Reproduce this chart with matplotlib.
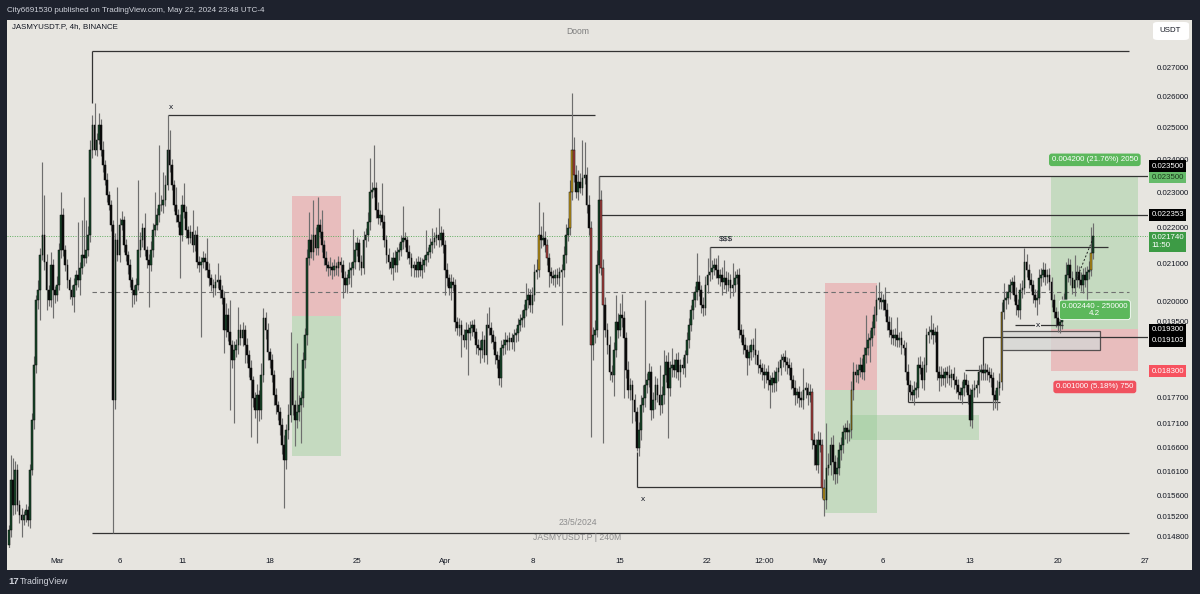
import numpy as np
import pandas as pd
import matplotlib
matplotlib.use('Agg')
import matplotlib.pyplot as plt
import matplotlib.dates as mdates
import matplotlib.transforms as mtransforms
from matplotlib.patches import Rectangle, FancyBboxPatch

# JASMYUSDT.P 4h candles, prices in 1e-5 USDT
first_open = 1465
closes = [
    1493, 1592, 1542, 1613, 1542, 1522, 1513, 1522, 1532, 1513,
    1613, 1719, 1844, 2004, 2030, 2123, 2178, 2105, 2030, 2004,
    2096, 2030, 2017, 2043, 2137, 2234, 2137, 2096, 2056, 2030,
    2012, 2043, 2070, 2056, 2088, 2123, 2115, 2137, 2178, 2429,
    2508, 2429, 2460, 2508, 2429, 2382, 2337, 2292, 2263, 2206,
    1764, 2164, 2123, 2206, 2220, 2150, 2123, 2096, 2056, 2030,
    2017, 2043, 2137, 2164, 2198, 2137, 2110, 2096, 2137, 2192,
    2206, 2234, 2263, 2263, 2278, 2322, 2429, 2382, 2322, 2263,
    2234, 2214, 2178, 2263, 2243, 2192, 2170, 2186, 2150, 2178,
    2105, 2096, 2105, 2115, 2105, 2083, 2061, 2043, 2035, 2051,
    2056, 2030, 2009, 1929, 1967, 1924, 1892, 1856, 1880, 1892,
    1929, 1909, 1929, 1892, 1868, 1838, 1809, 1768, 1741, 1775,
    1741, 1821, 1959, 1929, 1875, 1856, 1821, 1775, 1752, 1737,
    1708, 1665, 1633, 1697, 1730, 1814, 1752, 1719, 1737, 1752,
    1768, 1856, 1916, 2115, 2164, 2132, 2178, 2142, 2206, 2186,
    2150, 2115, 2096, 2088, 2091, 2083, 2094, 2088, 2105, 2096,
    2061, 2043, 2061, 2083, 2088, 2105, 2137, 2156, 2105, 2088,
    2164, 2178, 2214, 2301, 2307, 2313, 2249, 2226, 2234, 2214,
    2164, 2123, 2105, 2088, 2115, 2096, 2132, 2137, 2159, 2170,
    2164, 2132, 2115, 2088, 2096, 2083, 2105, 2083, 2096, 2110,
    2123, 2132, 2150, 2159, 2170, 2178, 2164, 2184, 2150, 2083,
    2061, 2035, 2051, 2043, 1949, 1934, 1941, 1916, 1904, 1929,
    1921, 1934, 1941, 1924, 1892, 1885, 1880, 1904, 1868, 1941,
    1934, 1916, 1899, 1868, 1856, 1814, 1885, 1892, 1904, 1899,
    1909, 1899, 1916, 1921, 1941, 1954, 1959, 1979, 2004, 2017,
    1992, 2017, 2078, 2083, 2178, 2164, 2170, 2150, 2115, 2078,
    2067, 2061, 2070, 2061, 2078, 2083, 2123, 2178, 2198, 2301,
    2429, 2352, 2301, 2331, 2313, 2343, 2352, 2263, 2198, 1892,
    1916, 1929, 2096, 2278, 2088, 1992, 1929, 1892, 1828, 1821,
    1880, 1949, 1929, 1967, 1959, 1909, 1833, 1786, 1797, 1764,
    1737, 1659, 1697, 1752, 1768, 1797, 1809, 1828, 1741, 1764,
    1797, 1775, 1752, 1775, 1821, 1851, 1791, 1838, 1844, 1833,
    1856, 1828, 1844, 1838, 1868, 1904, 1941, 1979, 2004, 2025,
    2051, 2030, 1992, 1984, 2043, 2070, 2078, 2088, 2096, 2083,
    2061, 2070, 2051, 2061, 2043, 2056, 2035, 2043, 2061, 2070,
    1929, 1916, 1892, 1880, 1861, 1875, 1892, 1880, 1868, 1844,
    1838, 1828, 1821, 1828, 1809, 1797, 1814, 1802, 1828, 1838,
    1856, 1863, 1851, 1844, 1838, 1809, 1791, 1775, 1781, 1768,
    1764, 1786, 1791, 1775, 1781, 1676, 1665, 1623, 1676, 1665,
    1576, 1552, 1617, 1623, 1665, 1629, 1603, 1617, 1654, 1665,
    1693, 1701, 1693, 1697, 1786, 1828, 1821, 1833, 1844, 1828,
    1868, 1885, 1904, 1909, 1934, 1967, 2004, 2009, 1999, 2004,
    1979, 1949, 1929, 1916, 1909, 1916, 1904, 1909, 1892, 1885,
    1828, 1797, 1781, 1775, 1786, 1791, 1844, 1838, 1809, 1844,
    1916, 1924, 1929, 1916, 1924, 1828, 1814, 1821, 1814, 1828,
    1821, 1814, 1823, 1809, 1797, 1781, 1775, 1791, 1809, 1797,
    1775, 1719, 1786, 1791, 1797, 1828, 1833, 1826, 1833, 1828,
    1821, 1814, 1775, 1764, 1791, 1805, 1974, 2004, 2009, 2025,
    2043, 2051, 2017, 1992, 1979, 2030, 2035, 2105, 2083, 2056,
    2043, 2017, 2004, 2009, 2061, 2070, 2083, 2064, 2070, 2051,
    2004, 1974, 1959, 1941, 1949, 1992, 2004, 2070, 2096, 2061,
    2035, 2056, 2078, 2056, 2043, 2070, 2056, 2078, 2083, 2129, 2174,
]
wick_up = [
    10, 52, 46, 18, 12, 9, 14, 8, 11, 7,
    12, 16, 22, 14, 25, 18, 214, 114, 20, 12,
    35, 15, 11, 24, 18, 67, 20, 13, 17, 9,
    14, 19, 12, 144, 16, 97, 163, 83, 25, 31,
    30, 71, 22, 38, 18, 27, 15, 21, 12, 14,
    14, 20, 152, 19, 26, 12, 17, 10, 15, 9,
    13, 18, 200, 22, 15, 42, 11, 16, 24, 20,
    95, 22, 181, 28, 83, 30, 111, 63, 20, 15,
    53, 18, 24, 30, 65, 16, 12, 20, 63, 14,
    25, 16, 12, 20, 14, 65, 18, 11, 15, 22,
    46, 14, 12, 18, 30, 16, 80, 12, 22, 15,
    58, 14, 20, 11, 16, 12, 18, 9, 14, 24,
    12, 28, 25, 15, 18, 10, 14, 12, 16, 9,
    11, 15, 20, 13, 24, 110, 18, 12, 160, 22,
    15, 20, 18, 24, 79, 16, 100, 22, 80, 18,
    63, 14, 20, 11, 27, 13, 18, 10, 16, 12,
    14, 18, 11, 20, 15, 90, 22, 16, 12, 18,
    24, 20, 28, 102, 25, 131, 18, 22, 15, 94,
    20, 14, 18, 12, 16, 22, 14, 20, 18, 90,
    16, 12, 18, 14, 11, 20, 15, 12, 18, 14,
    69, 14, 20, 39, 16, 22, 77, 18, 12, 15,
    18, 12, 20, 14, 16, 11, 18, 12, 15, 20,
    14, 18, 12, 16, 10, 14, 18, 22, 12, 30,
    46, 14, 12, 16, 10, 12, 18, 14, 20, 12,
    14, 11, 16, 12, 18, 14, 20, 16, 44, 18,
    16, 22, 20, 28, 94, 24, 73, 20, 18, 14,
    12, 16, 14, 18, 12, 15, 24, 30, 28, 36,
    182, 40, 30, 35, 28, 117, 100, 24, 30, 18,
    20, 24, 40, 71, 30, 25, 20, 18, 22, 16,
    20, 68, 22, 30, 53, 18, 14, 20, 16, 12,
    14, 10, 18, 22, 30, 207, 16, 20, 14, 18,
    22, 16, 69, 20, 59, 18, 24, 16, 41, 14,
    16, 20, 14, 18, 12, 20, 18, 13, 22, 16,
    78, 18, 14, 20, 24, 45, 67, 22, 18, 20,
    41, 16, 20, 49, 18, 22, 16, 59, 20, 14,
    18, 14, 16, 20, 12, 18, 14, 16, 54, 12,
    14, 12, 18, 10, 16, 12, 14, 18, 12, 16,
    14, 10, 18, 12, 16, 14, 12, 18, 10, 14,
    16, 52, 14, 12, 18, 10, 14, 12, 18, 16,
    12, 18, 95, 24, 16, 20, 14, 22, 18, 16,
    14, 12, 18, 16, 20, 24, 18, 14, 20, 16,
    18, 82, 16, 20, 18, 22, 39, 42, 18, 16,
    34, 18, 14, 33, 16, 18, 46, 14, 18, 12,
    14, 18, 12, 16, 20, 14, 18, 22, 16, 20,
    18, 14, 38, 16, 12, 18, 14, 20, 16, 12,
    14, 23, 12, 16, 10, 14, 12, 16, 18, 14,
    12, 16, 14, 18, 12, 16, 14, 12, 16, 14,
    12, 16, 14, 12, 18, 20, 24, 44, 18, 20,
    16, 13, 18, 20, 14, 18, 22, 37, 20, 16,
    18, 14, 16, 20, 25, 18, 22, 19, 16, 18,
    14, 16, 12, 18, 20, 22, 18, 35, 19, 16,
    20, 67, 18, 16, 22, 18, 20, 16, 24, 71, 37,
]
wick_dn = [
    30, 14, 20, 18, 12, 16, 33, 10, 14, 12,
    16, 12, 20, 18, 24, 76, 14, 22, 51, 16,
    18, 71, 20, 16, 14, 22, 18, 16, 20, 24,
    20, 38, 14, 18, 39, 16, 22, 14, 18, 20,
    24, 16, 20, 14, 18, 22, 16, 20, 14, 18,
    277, 20, 16, 18, 14, 20, 16, 24, 18, 43,
    22, 16, 14, 20, 18, 16, 22, 109, 16, 20,
    18, 14, 20, 16, 22, 18, 14, 20, 16, 18,
    20, 14, 117, 18, 16, 22, 18, 14, 20, 16,
    18, 20, 185, 16, 22, 18, 20, 16, 22, 18,
    16, 20, 14, 56, 18, 22, 151, 20, 144, 18,
    22, 16, 20, 43, 18, 22, 127, 20, 18, 72,
    24, 20, 16, 22, 18, 20, 16, 22, 20, 18,
    22, 20, 97, 18, 20, 16, 22, 56, 18, 20,
    83, 20, 18, 24, 20, 16, 22, 18, 20, 16,
    18, 20, 16, 22, 18, 24, 16, 20, 22, 18,
    52, 18, 20, 16, 45, 18, 20, 16, 22, 18,
    16, 20, 18, 22, 16, 20, 24, 18, 20, 16,
    18, 22, 20, 16, 32, 20, 18, 22, 16, 20,
    18, 20, 16, 22, 24, 18, 20, 16, 22, 18,
    16, 20, 18, 22, 16, 20, 18, 16, 22, 66,
    20, 18, 31, 16, 22, 18, 20, 53, 18, 22,
    100, 18, 20, 16, 22, 18, 31, 20, 16, 22,
    18, 20, 16, 22, 18, 17, 20, 16, 22, 18,
    20, 16, 22, 18, 20, 16, 18, 22, 16, 20,
    18, 22, 16, 20, 18, 22, 16, 20, 18, 40,
    20, 18, 22, 16, 20, 137, 18, 22, 16, 20,
    24, 20, 18, 22, 16, 20, 18, 22, 20, 210,
    36, 20, 18, 22, 20, 323, 18, 22, 20, 16,
    49, 18, 20, 16, 22, 141, 20, 18, 22, 52,
    20, 8, 18, 22, 16, 20, 18, 16, 22, 18,
    20, 16, 22, 18, 20, 16, 111, 18, 22, 16,
    20, 18, 35, 16, 22, 18, 20, 16, 22, 18,
    20, 16, 22, 20, 18, 22, 16, 20, 18, 22,
    16, 20, 34, 18, 20, 16, 26, 20, 18, 16,
    20, 18, 22, 16, 40, 18, 20, 16, 22, 18,
    16, 20, 30, 18, 22, 51, 16, 20, 18, 22,
    18, 16, 20, 22, 18, 20, 16, 22, 18, 20,
    16, 20, 18, 22, 16, 20, 42, 10, 18, 16,
    20, 32, 18, 16, 22, 37, 20, 18, 16, 20,
    18, 16, 24, 20, 18, 22, 16, 20, 18, 16,
    20, 18, 16, 53, 20, 18, 16, 22, 18, 20,
    16, 20, 18, 22, 16, 20, 18, 16, 22, 18,
    20, 16, 18, 15, 22, 18, 20, 16, 18, 22,
    16, 20, 18, 22, 16, 20, 30, 18, 16, 20,
    18, 16, 22, 20, 18, 16, 11, 20, 18, 16,
    20, 13, 18, 16, 22, 18, 20, 16, 18, 20,
    16, 20, 34, 18, 22, 16, 20, 18, 22, 16,
    18, 20, 16, 25, 18, 22, 20, 16, 18, 20,
    16, 20, 18, 37, 16, 20, 18, 22, 16, 20,
    18, 16, 22, 17, 20, 18, 16, 22, 20, 18,
    16, 20, 18, 22, 16, 20, 18, 94, 20, 16, 18,
]
orange_candles = [254, 269, 270, 391, 404, 476, 519]
red_candles = [258, 271, 279, 284, 285, 385, 390]

price_ticks = [0.0148, 0.0152, 0.0156, 0.0161, 0.0166, 0.0171, 0.0177,
               0.0195, 0.0200, 0.0210, 0.0220, 0.0230, 0.0240, 0.0250,
               0.0260, 0.0270]
date_ticks = ['2024-03-01', '2024-03-06', '2024-03-11', '2024-03-18', '2024-03-25',
              '2024-04-01', '2024-04-08', '2024-04-15', '2024-04-22', '2024-04-26 12:00',
              '2024-05-01', '2024-05-06', '2024-05-13', '2024-05-20', '2024-05-27']
date_labels = ['Mar', '6', '11', '18', '25', 'Apr', '8', '15', '22', '12:00',
               'May', '6', '13', '20', '27']

assert len(closes) == len(wick_up) == len(wick_dn)

DARK = '#1e222d'
BG = '#e7e5e0'
INK = '#131722'
LINE = '#333333'
FS = 5.7
plt.rcParams['font.family'] = ['Liberation Sans', 'DejaVu Sans']

c = np.array(closes) / 1e5
o = np.r_[first_open / 1e5, c[:-1]]
h = np.maximum(o, c) + np.array(wick_up) / 1e5
l = np.minimum(o, c) - np.array(wick_dn) / 1e5
t = pd.date_range('2024-02-26 04:00', periods=len(c), freq='4h')
x = mdates.date2num(t)

def d(s):
    return mdates.date2num(pd.Timestamp(s))

fig = plt.figure(figsize=(12, 5.94), dpi=100)
fig.patch.set_facecolor(DARK)
W, H = 1200, 594
fig.patches.append(Rectangle((7 / W, 1 - 570 / H), 1185 / W, 550 / H,
                             transform=fig.transFigure, facecolor=BG, zorder=-5))
ax = fig.add_axes([7 / W, 1 - 548 / H, 1141 / W, 528 / H])
ax.set_zorder(2)
ax.set_facecolor(BG)
for s in ax.spines.values():
    s.set_visible(False)

ax.set_yscale('log')
ax.set_ylim(0.01459, 0.02868)
xmin, xmax = d('2024-02-26 00:05'), d('2024-05-27 05:00')
ax.set_xlim(xmin, xmax)

# candles
up = c >= o
body = np.where(up, '#17482a', '#0b0b0b').astype(object)
for i in orange_candles:
    body[i] = '#c39a1c'
for i in red_candles:
    body[i] = '#a9403f'
ax.vlines(x, l, h, color='#6e6e6e', lw=0.85, zorder=3)
ax.bar(x, c - o, bottom=o, width=0.14, color=list(body), edgecolor='#0b0b0b',
       lw=0.35, zorder=4)

# range lines
rng_top, rng_bot = 0.02757, 0.01487
r0, r1 = d('2024-03-03 20:00'), d('2024-05-25 16:00')
ax.hlines([rng_top, rng_bot], r0, r1, color=LINE, lw=0.9, zorder=2)
ax.vlines(r0, 0.0258, rng_top, color=LINE, lw=0.9, zorder=2)
ax.hlines(np.sqrt(rng_top * rng_bot), r0, r1, color='#6f6f6f', lw=0.8,
          linestyles=(0, (4, 3)), zorder=2)

# current price dotted line
last = c[-1]
ax.hlines(last, xmin, xmax, color='#5fae5f', lw=0.7, linestyles=(0, (1, 1.5)), zorder=2)

# swing lines
ax.hlines(0.0254, d('2024-03-09 20:00'), d('2024-04-13 00:00'), color=LINE, lw=0.9, zorder=2)
ax.text(d('2024-03-10 02:00'), 0.02553, 'x', fontsize=6, color=INK, ha='center', va='bottom')
ax.hlines(0.0235, d('2024-04-13 08:00'), xmax, color=LINE, lw=0.9, zorder=2)
ax.vlines(d('2024-04-13 08:00'), 0.02275, 0.0235, color=LINE, lw=0.9, zorder=2)
ax.hlines(0.022353, d('2024-04-13 12:00'), xmax, color=LINE, lw=0.9, zorder=2)
ax.hlines(0.02145, d('2024-04-22 04:00'), d('2024-05-24 00:00'), color=LINE, lw=0.9, zorder=2)
ax.vlines(d('2024-04-22 04:00'), 0.0209, 0.02145, color=LINE, lw=0.9, zorder=2)
ax.text(d('2024-04-23 12:00'), 0.02158, '$$$', fontsize=6, color=INK, ha='center', va='bottom')
ax.hlines(0.01578, d('2024-04-16 08:00'), d('2024-05-01 02:00'), color=LINE, lw=0.9, zorder=2)
ax.vlines(d('2024-04-16 08:00'), 0.01578, 0.0165, color=LINE, lw=0.9, zorder=2)
ax.text(d('2024-04-16 20:00'), 0.0156, 'x', fontsize=6, color=INK, ha='center', va='top')

# position tools
def zone(t0, t1, lo, hi, col, alpha=0.38, z=1):
    ax.add_patch(Rectangle((d(t0), lo), d(t1) - d(t0), hi - lo, facecolor=col,
                           alpha=alpha, lw=0, zorder=z))

RED_Z, GREEN_Z = '#ea7e85', '#8fca8e'
zone('2024-03-19 18:00', '2024-03-23 17:00', 0.01964, 0.0229, RED_Z)
zone('2024-03-19 18:00', '2024-03-23 17:00', 0.01641, 0.01964, GREEN_Z)
zone('2024-05-01 09:00', '2024-05-05 13:00', 0.01786, 0.02049, RED_Z)
zone('2024-05-01 09:00', '2024-05-05 13:00', 0.01526, 0.01786, GREEN_Z)
zone('2024-05-03 09:00', '2024-05-13 16:00', 0.01676, 0.0173, GREEN_Z)
zone('2024-05-19 11:00', '2024-05-26 10:00', 0.0193, 0.0235, GREEN_Z)
zone('2024-05-19 11:00', '2024-05-26 10:00', 0.0183, 0.0193, RED_Z)

# structure lines near the end
ax.add_patch(Rectangle((d('2024-05-15 13:00'), 0.0188), d('2024-05-23 09:00') - d('2024-05-15 13:00'),
                       0.01926 - 0.0188, facecolor='#d6d6d4', alpha=0.8,
                       edgecolor=LINE, lw=0.9, zorder=2))
ax.hlines(0.019103, d('2024-05-14 00:00'), xmax, color=LINE, lw=0.9, zorder=2)
ax.vlines(d('2024-05-14 00:00'), 0.01833, 0.019103, color=LINE, lw=0.9, zorder=2)
ax.hlines(0.01833, d('2024-05-12 14:00'), d('2024-05-14 04:00'), color=LINE, lw=0.9, zorder=2)
ax.hlines(0.01759, d('2024-05-08 00:00'), d('2024-05-15 09:00'), color=LINE, lw=0.9, zorder=2)
ax.vlines(d('2024-05-08 00:00'), 0.01759, 0.01794, color=LINE, lw=0.9, zorder=2)
ax.hlines(0.0194, d('2024-05-16 14:00'), d('2024-05-20 10:00'), color=LINE, lw=0.9, zorder=5)
ax.text(d('2024-05-18 10:00'), 0.0194, 'x', fontsize=6, color=INK, ha='center', va='center',
        bbox=dict(facecolor=BG, edgecolor='none', pad=0.3), zorder=6)
ax.plot([d('2024-05-21 12:00'), d('2024-05-22 20:00')], [0.02059, 0.0217], color='#222222',
        lw=0.7, ls=(0, (2, 2)), zorder=5)

# position labels
lab = dict(fontsize=FS, color='white', ha='center', va='center', zorder=7)
xc = d('2024-05-22 23:00')
ax.text(xc, 0.02398, '0.004200 (21.76%) 2050',
        bbox=dict(boxstyle='round,pad=0.35', facecolor='#5cb85c', edgecolor='none'), **lab)
ax.text(xc, 0.01979, '0.002440 - 250000\n4.2', linespacing=1.0,
        bbox=dict(boxstyle='round,pad=0.35', facecolor='#5cb85c', edgecolor='white', lw=0.6), **lab)
ax.text(xc, 0.01793, '0.001000 (5.18%) 750',
        bbox=dict(boxstyle='round,pad=0.35', facecolor='#f0525f', edgecolor='none'), **lab)

# axes ticks
ax.yaxis.tick_right()
ax.set_yticks(price_ticks)
ax.set_yticklabels(['%.6f' % p for p in price_ticks])
ax.yaxis.set_minor_locator(matplotlib.ticker.NullLocator())
ax.tick_params(axis='y', length=0, pad=6, labelsize=FS, labelcolor=INK)
ax.set_xticks([d(s) for s in date_ticks])
ax.set_xticklabels(date_labels)
ax.tick_params(axis='x', length=0, pad=7, labelsize=FS, labelcolor=INK)

# price scale labels
tr = mtransforms.blended_transform_factory(ax.transAxes, ax.transData)
def plabel(y, txt, fc, tc='white'):
    ax.text(1.0030, y, txt, transform=tr, fontsize=FS, color=tc, ha='left', va='center',
            bbox=dict(boxstyle='square,pad=0.3', facecolor=fc, edgecolor='none'),
            zorder=8, clip_on=False, linespacing=1.2)

plabel(0.02379, '0.023500', '#000000')
plabel(0.0235 * 0.9975, '0.023500', '#66bb6a', tc='#1b3a1b')
plabel(0.022353, '0.022353', '#000000')
plabel(0.02159, '0.021740\n11:50', '#3d9b45')
plabel(0.0193, '0.019300', '#000000')
plabel(0.01902, '0.019103', '#000000')
plabel(0.0183, '0.018300', '#f7525f')
fig.patches.append(FancyBboxPatch((1153 / W, 1 - 40 / H), 36 / W, 18 / H,
                                  boxstyle='round,pad=0,rounding_size=0.004',
                                  transform=fig.transFigure, facecolor='white',
                                  edgecolor='none', zorder=3))
fig.text(1159 / W, 1 - 31 / H, 'USDT', fontsize=FS, color=INK, ha='left', va='center', zorder=4)

# watermark / header / footer
ax.text(0.5, 0.979, 'Doom', transform=ax.transAxes, fontsize=6.2, color='#7d7d7d', ha='center', va='center')
ax.text(0.5, 0.049, '23/5/2024', transform=ax.transAxes, fontsize=6.2, color='#8d8d8d', ha='center', va='center')
ax.text(0.5, 0.019, 'JASMYUSDT.P | 240M', transform=ax.transAxes, fontsize=6.2, color='#8d8d8d',
        ha='center', va='center')
fig.text(12 / W, 1 - 27 / H, 'JASMYUSDT.P, 4h, BINANCE', fontsize=FS, color=INK, va='center')
fig.text(7 / W, 1 - 10 / H, 'City6691530 published on TradingView.com, May 22, 2024 23:48 UTC-4',
         fontsize=5.8, color='#d1d4dc', va='center')
fig.text(8 / W, 1 - 582 / H, '17', fontsize=6.8, color='#d1d4dc', va='center', weight='bold')
fig.text(20 / W, 1 - 582 / H, 'TradingView', fontsize=6.3, color='#d1d4dc', va='center')

fig.savefig('out.png', dpi=100, facecolor=DARK)
